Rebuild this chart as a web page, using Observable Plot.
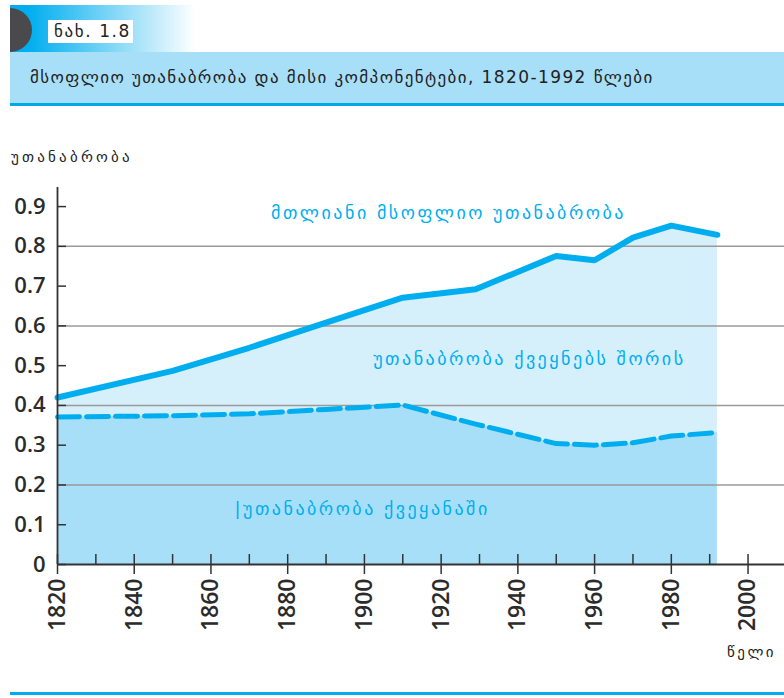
<!DOCTYPE html>
<html><head><meta charset="utf-8">
<script src="https://cdn.jsdelivr.net/npm/d3@7"></script>
<script src="https://cdn.jsdelivr.net/npm/@observablehq/plot@0.6"></script>
<style>
body{margin:0;background:#fff;width:784px;height:698px;overflow:hidden;position:relative;font-family:"DejaVu Sans",sans-serif}
#grad{position:absolute;left:10px;top:5px;width:185px;height:47px;background:linear-gradient(to right,#00aeef 10%,#ffffff 100%)}
#dot{position:absolute;left:-12px;top:8px;width:44px;height:44px;border-radius:50%;background:#4a4a4c;clip-path:inset(0 0 0 22px)}
#fig{position:absolute;left:48px;top:20px;width:85px;height:23px;background:#fff;font-size:17px;letter-spacing:1.6px;line-height:23px;color:#222;padding-left:6px;box-sizing:border-box;white-space:nowrap}
#band{position:absolute;left:10px;top:52px;width:754px;height:51px;background:#a8dff8;border-bottom:3px solid #00a8e8;font-size:17px;letter-spacing:1.4px;line-height:51px;color:#222;padding-left:20px;box-sizing:content-box;white-space:nowrap}
#ylab{position:absolute;left:11px;top:148px;font-size:15px;letter-spacing:3.2px;color:#222}
#xlab{position:absolute;left:727px;top:643px;font-size:15px;letter-spacing:2.5px;color:#222}
#foot{position:absolute;left:10px;top:692px;width:774px;height:3px;background:#00aeef}
#chart{position:absolute;left:0;top:140px}
</style></head><body>
<div id="grad"></div><div id="dot"></div><div id="fig">ნახ. 1.8</div>
<div id="band">მსოფლიო უთანაბრობა და მისი კომპონენტები, 1820-1992 წლები</div>
<div id="ylab">უთანაბრობა</div>
<div id="chart"></div>
<div id="xlab">წელი</div>
<div id="foot"></div>
<script>
const years = [1820, 1850, 1870, 1890, 1910, 1929, 1950, 1960, 1970, 1980, 1992];
const totalInequality = [0.420, 0.487, 0.545, 0.608, 0.671, 0.692, 0.776, 0.765, 0.822, 0.852, 0.829];
const withinCountries = [0.371, 0.374, 0.379, 0.390, 0.401, 0.353, 0.304, 0.300, 0.306, 0.323, 0.332];
const yTicks = [0, 0.1, 0.2, 0.3, 0.4, 0.5, 0.6, 0.7, 0.8, 0.9];
const gridValues = [0.2, 0.4, 0.6, 0.8];
const xMajorTicks = [1820, 1840, 1860, 1880, 1900, 1920, 1940, 1960, 1980, 2000];
const xMinorTicks = [1820, 1830, 1840, 1850, 1860, 1870, 1880, 1890, 1900, 1910, 1920, 1930, 1940, 1950, 1960, 1970, 1980, 1990, 2000];
const labelTexts = ["მთლიანი მსოფლიო უთანაბრობა", "უთანაბრობა ქვეყნებს შორის", "|უთანაბრობა ქვეყანაში"];
const labelYears = [1921.9, 1943.0, 1899.4];
const labelValues = [0.884, 0.517, 0.140];

const data = years.map((y, i) => ({year: y, total: totalInequality[i], within: withinCountries[i]}));
const labels = labelTexts.map((t, i) => ({text: t, year: labelYears[i], value: labelValues[i]}));

const blue = "#00aeef";
const chart = Plot.plot({
  width: 784,
  height: 530,
  marginLeft: 57,
  marginRight: 0,
  marginTop: 47,
  marginBottom: 106,
  style: {background: "transparent", overflow: "visible"},
  x: {domain: [1820, 2009.5]},
  y: {domain: [0, 0.948]},
  marks: [
    Plot.areaY(data, {x: "year", y1: 0, y2: "within", fill: "#a8dff8"}),
    Plot.areaY(data, {x: "year", y1: "within", y2: "total", fill: "#d5effb"}),
    Plot.ruleY(gridValues, {stroke: "#9a9a9a", strokeWidth: 1.5}),
    Plot.line(data, {x: "year", y: "within", stroke: blue, strokeWidth: 5, strokeDasharray: "22,7"}),
    Plot.line(data, {x: "year", y: "total", stroke: blue, strokeWidth: 6, strokeLinejoin: "round"}),
    Plot.ruleX([1820], {stroke: "#333", strokeWidth: 1.8}),
    Plot.ruleY([0], {stroke: "#333", strokeWidth: 1.8}),
    Plot.axisY({ticks: yTicks, tickSize: -9, text: null, label: null, stroke: "#333", strokeWidth: 1.5}),
    Plot.axisY({ticks: yTicks, tickSize: 0, tickPadding: 12, label: null, tickFormat: d => d === 0 ? "0" : d3.format(".1f")(d), fontSize: 22, fontFamily: "Open Sans", fontWeight: 600, fill: "#2b2b2b"}),
    Plot.axisX({ticks: xMinorTicks, tickSize: -10, text: null, label: null, stroke: "#333", strokeWidth: 1.5}),
    Plot.axisX({ticks: xMajorTicks, tickSize: 10, tickPadding: 4, tickRotate: -90, label: null, tickFormat: d => String(d), fontSize: 23, fontFamily: "Open Sans", fontWeight: 600, fill: "#2b2b2b", stroke: "#333", strokeWidth: 1.5}),
    Plot.text(labels, {x: "year", y: "value", text: "text", fill: blue, fontSize: 18, fontFamily: "DejaVu Sans", textAnchor: "middle"})
  ]
});
d3.select(chart).selectAll("text").filter(function() { return labelTexts.includes(this.textContent); })
  .style("letter-spacing", "2.5px");
document.getElementById("chart").appendChild(chart);
</script>
</body></html>
